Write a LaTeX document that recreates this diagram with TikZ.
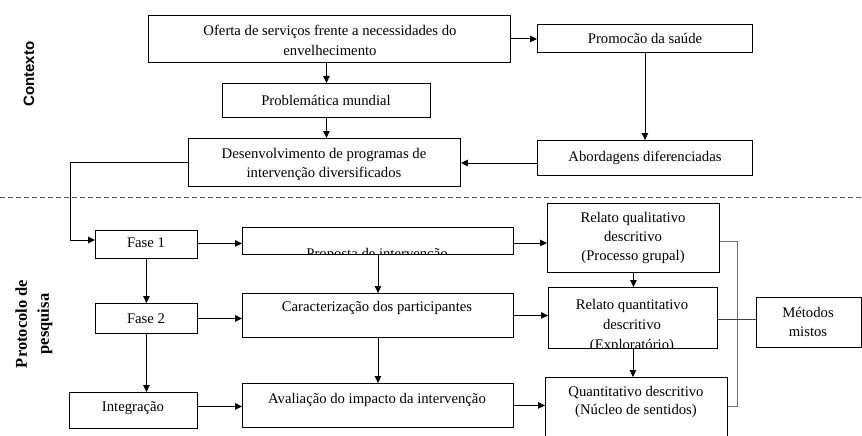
\documentclass[tikz,border=0pt]{standalone}
\usepackage{fontspec}
\setmainfont{Liberation Serif}
\newfontfamily\lsans{Liberation Sans}
\usetikzlibrary{arrows.meta}
\definecolor{brk}{HTML}{707070}
\definecolor{dsh}{HTML}{606060}
\newcommand\mybox[5]{\node[bx,anchor=north west,minimum width={#4pt-#2pt},minimum height={#5pt-#3pt}] (#1) at (#2,#3) {};}
\begin{document}
\begin{tikzpicture}[x=1pt,y=-1pt,
  bx/.style={draw=black,line width=0.9pt,inner sep=0pt,fill=white},
  txt/.style={font=\fontsize{14.7}{19}\selectfont,align=center,inner sep=0pt},
  arr/.style={line width=0.9pt,-{Triangle[length=7pt,width=6.5pt]}},
  brkline/.style={draw=brk,line width=0.9pt}]
\clip (0,0) rectangle (862,436);
\fill[white] (0,0) rectangle (862,436);
% dashed separator
\coordinate (dl) at (0,197);
\coordinate (dr) at (862,197);
\draw[dsh,line width=0.9pt,dash pattern=on 5pt off 3pt] (dl) -- (dr);
% section labels
\node[font=\lsans\bfseries\fontsize{15}{18}\selectfont,rotate=90,inner sep=0pt] (lctx) at (29,74) {Contexto};
\node[font=\bfseries\fontsize{16.5}{22}\selectfont,rotate=90,align=center,inner sep=0pt] (lprot) at (34,324) {Protocolo de\\pesquisa};
% boxes
\mybox{oferta}{148}{15}{510}{62}
\mybox{promo}{537}{24}{752}{52}
\mybox{prob}{222}{83}{430}{117}
\mybox{desenv}{188}{138}{460}{186}
\mybox{abord}{537}{140}{752}{175}
\mybox{fase1}{95}{230}{197}{258}
\mybox{fase2}{95}{303}{197}{333}
\mybox{integ}{69}{392}{197}{428}
\mybox{prop}{242}{227}{513}{254}
\mybox{caract}{242}{293}{513}{337}
\mybox{aval}{242}{383}{513}{427}
\mybox{rqual}{547}{203}{719}{272}
\mybox{rquant}{548}{287}{717}{348}
\mybox{qdesc}{545}{377}{727}{450}
\mybox{metodos}{756}{297}{861}{347}
% texts
\node[txt] (toferta) at (330,40) {Oferta de serviços frente a necessidades do\\[1pt]envelhecimento};
\node[txt] (tpromo) at (645,38) {Promocão da saúde};
\node[txt] (tprob) at (326,100) {Problemática mundial};
\node[txt] (tdesenv) at (324,164) {Desenvolvimento de programas de\\intervenção diversificados};
\node[txt] (tabord) at (645,158) {Abordagens diferenciadas};
\node[txt] (tfase1) at (146,243) {Fase 1};
\node[txt] (tfase2) at (146,319) {Fase 2};
\node[txt] (tinteg) at (133,408) {Integração};
\begin{scope}
\clip (prop.north west) rectangle (prop.south east);
\node[txt,anchor=base] (tprop) at (377,258) {Proposta de intervenção};
\end{scope}
\node[txt] (tcaract) at (377,308) {Caracterização dos participantes};
\node[txt] (taval) at (377,400) {Avaliação do impacto da intervenção};
\node[txt] (trqual) at (633,238) {Relato qualitativo\\descritivo\\(Processo grupal)};
\begin{scope}
\clip (rquant.north west) rectangle (rquant.south east);
\node[txt,font=\fontsize{14.7}{20}\selectfont] (trquant) at (632,326) {Relato quantitativo\\descritivo\\(Exploratório)};
\end{scope}
\node[txt,font=\fontsize{14.7}{18}\selectfont] (tqdesc) at (636,402) {Quantitativo descritivo\\(Núcleo de sentidos)};
\node[txt] (tmetodos) at (808,322) {Métodos\\mistos};
% context connectors
\draw[arr] (oferta.east) -- (oferta.east -| promo.west);
\draw[arr] (oferta.south -| prob) -- (prob.north);
\draw[arr] (prob.south) -- (prob.south |- desenv.north);
\draw[arr] (promo.south) -- (abord.north);
\draw[arr] ([yshift=-5pt]abord.west) -- ([yshift=-5pt]abord.west -| desenv.east);
\coordinate (c1) at (70,240);
\draw[arr] (desenv.west) -| (c1) -- (c1 -| fase1.west);
% protocol connectors
\draw[arr] ([yshift=1pt]fase1.east) -- ([yshift=1pt]fase1.east -| prop.west);
\draw[arr] (fase1.south) -- (fase1.south |- fase2.north);
\draw[arr] (fase2.east) -- (fase2.east -| caract.west);
\draw[arr] (fase2.south) -- (fase2.south |- integ.north);
\draw[arr] ([yshift=4pt]integ.east) -- ([yshift=4pt]integ.east -| aval.west);
\draw[arr] (prop.south) -- (caract.north);
\draw[arr] (caract.south) -- (aval.north);
\draw[arr] ([yshift=-2pt]prop.east) -- ([yshift=-2pt]prop.east -| rqual.west);
\draw[arr] (caract.east) -- (caract.east -| rquant.west);
\draw[arr] (aval.east) -- (aval.east -| qdesc.west);
\draw[arr] (rqual.south) -- (rqual.south |- rquant.north);
\draw[arr] (rquant.south) -- (rquant.south |- qdesc.north);
% bracket to mixed methods
\coordinate (b1) at (737,241);
\coordinate (b2) at (737,406);
\draw[brkline] (b1 -| rqual.east) -- (b1) -- (b2) -- (b2 -| qdesc.east);
\draw[line width=0.9pt,draw=black!75] ([yshift=-1.5pt]rquant.east) -- ([yshift=-1.5pt]rquant.east -| metodos.west);
\end{tikzpicture}
\end{document}
